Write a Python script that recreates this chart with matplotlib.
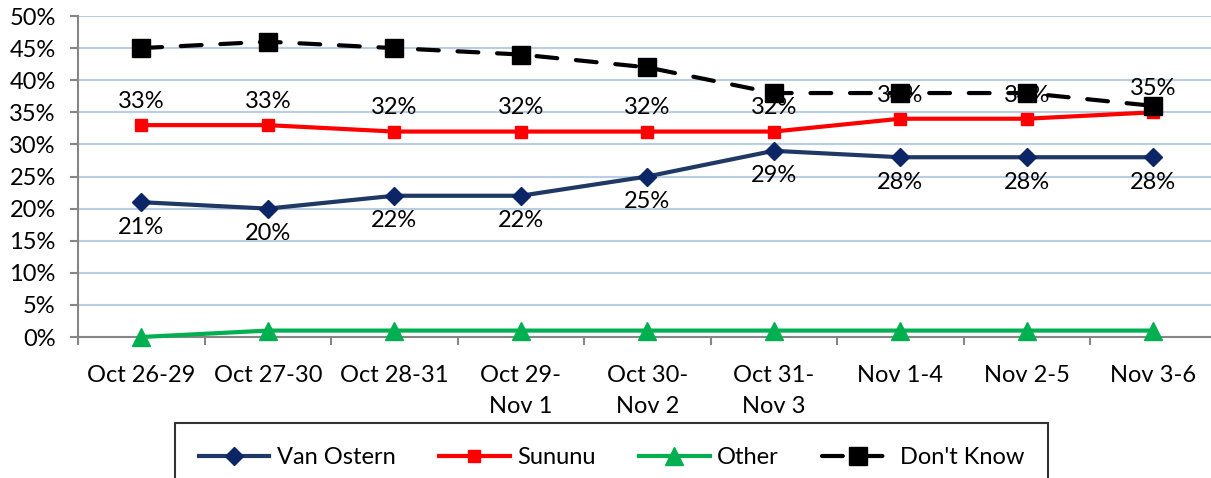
import matplotlib.pyplot as plt
import numpy as np
from matplotlib.ticker import FixedLocator, PercentFormatter

plt.rcParams['font.family'] = ['Lato', 'DejaVu Sans']

categories = ['Oct 26-29', 'Oct 27-30', 'Oct 28-31', 'Oct 29-\nNov 1', 'Oct 30-\nNov 2',
              'Oct 31-\nNov 3', 'Nov 1-4', 'Nov 2-5', 'Nov 3-6']
van_ostern = [21, 20, 22, 22, 25, 29, 28, 28, 28]
sununu = [33, 33, 32, 32, 32, 32, 34, 34, 35]
other = [0, 1, 1, 1, 1, 1, 1, 1, 1]
dont_know = [45, 46, 45, 44, 42, 38, 38, 38, 36]

fs = 17

fig = plt.figure(figsize=(12.11, 4.78), dpi=100)
ax = fig.add_axes([78 / 1211, 141 / 478, 1138.5 / 1211, 321 / 478])

x = np.arange(len(categories))

# grid
ax.set_axisbelow(True)
ax.yaxis.grid(True, color='#B9CDE5', linewidth=1.5)

ax.plot(x, van_ostern, color='#1F3864', lw=3, marker='D', markersize=9,
        markerfacecolor='#0B2566', markeredgecolor='#0B2566', label='Van Ostern', zorder=3)
ax.plot(x, sununu, color='#FF0000', lw=3, marker='s', markersize=9,
        label='Sununu', zorder=3)
ax.plot(x, other, color='#00B050', lw=3, marker='^', markersize=13,
        label='Other', zorder=3, clip_on=False)
ax.plot(x, dont_know, color='black', lw=3, marker='s', markersize=13,
        dashes=(5, 4.5), dash_capstyle='round', label="Don't Know", zorder=5)

for i in range(len(x)):
    ax.annotate(f'{van_ostern[i]}%', (x[i], van_ostern[i]), xytext=(0, -18),
                textcoords='offset points', ha='center', va='center', fontsize=fs, zorder=4)
    ax.annotate(f'{sununu[i]}%', (x[i], sununu[i]), xytext=(0, 17),
                textcoords='offset points', ha='center', va='center', fontsize=fs, zorder=4)

ax.set_xlim(-0.5, len(x) - 0.5)
ax.set_ylim(0, 50)
ax.set_yticks(np.arange(0, 51, 5))
ax.yaxis.set_major_formatter(PercentFormatter(decimals=0))

ax.set_xticks(x)
ax.set_xticklabels(categories, linespacing=1.6)
ax.xaxis.set_minor_locator(FixedLocator(np.arange(-0.5, len(x), 1)))
ax.tick_params(axis='x', which='major', length=0, pad=20, labelsize=fs)
ax.tick_params(axis='x', which='minor', length=6, width=1.5, color='#868686')
ax.tick_params(axis='y', length=6, width=1.5, color='#868686', labelsize=fs, pad=10)

for s in ['top', 'right']:
    ax.spines[s].set_visible(False)
for s in ['left', 'bottom']:
    ax.spines[s].set_color('#868686')
    ax.spines[s].set_linewidth(1.5)

leg = fig.legend(loc='upper left', bbox_to_anchor=(175 / 1211, 1 - 428 / 478, 873 / 1211, 0.01),
                 mode='expand', ncol=4, fontsize=fs, frameon=True, fancybox=False,
                 handlelength=3.0, handletextpad=0.3, borderpad=1.0, borderaxespad=0)
leg.get_frame().set_edgecolor('black')
leg.get_frame().set_linewidth(1.5)

fig.savefig('out.png', dpi=100)
